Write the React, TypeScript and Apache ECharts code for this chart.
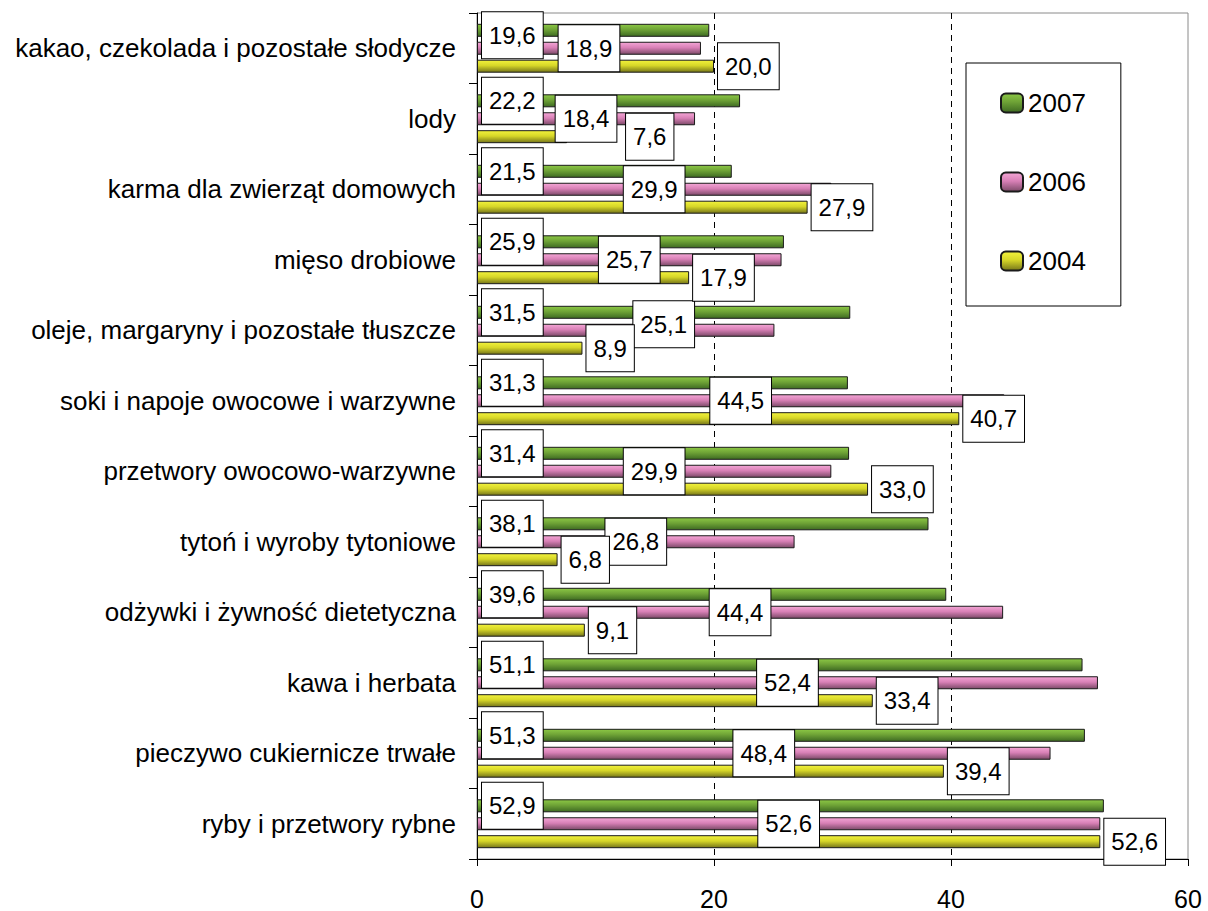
import React, { useEffect, useRef } from "react";
import * as echarts from "echarts";

const categories = [
  "kakao, czekolada i pozostałe słodycze",
  "lody",
  "karma dla zwierząt domowych",
  "mięso drobiowe",
  "oleje, margaryny i pozostałe tłuszcze",
  "soki i napoje owocowe i warzywne",
  "przetwory owocowo-warzywne",
  "tytoń i wyroby tytoniowe",
  "odżywki i żywność dietetyczna",
  "kawa i herbata",
  "pieczywo cukiernicze trwałe",
  "ryby i przetwory rybne",
];

const values2007 = [19.6, 22.2, 21.5, 25.9, 31.5, 31.3, 31.4, 38.1, 39.6, 51.1, 51.3, 52.9];
const values2006 = [18.9, 18.4, 29.9, 25.7, 25.1, 44.5, 29.9, 26.8, 44.4, 52.4, 48.4, 52.6];
const values2004 = [20.0, 7.6, 27.9, 17.9, 8.9, 40.7, 33.0, 6.8, 9.1, 33.4, 39.4, 52.6];

const seriesNames = ["2007", "2006", "2004"];
const xTicks = { min: 0, max: 60, interval: 20 };

const FONT = "Liberation Sans";

const fmt = (p: any) => Number(p.value).toFixed(1).replace(".", ",");

const labelBase = {
  show: true,
  formatter: fmt,
  fontSize: 24,
  fontFamily: FONT,
  color: "#000",
  lineHeight: 24,
  backgroundColor: "#fff",
  borderColor: "#000",
  borderWidth: 1,
  padding: [11, 7, 11, 7],
};

const grad = (stops: string[]) =>
  new echarts.graphic.LinearGradient(0, 0, 0, 1, [
    { offset: 0, color: stops[0] },
    { offset: 0.45, color: stops[1] },
    { offset: 1, color: stops[2] },
  ]);

// label offsets that Excel applied to avoid collisions: [seriesIndex, categoryIndex, dx, dy]
const labelShifts: [number, number, number, number][] = [
  [0, 0, 0, 5],
  [2, 1, 55, 0],
  [1, 4, 38, -6],
];

export default function App() {
  const ref = useRef<HTMLDivElement>(null);

  useEffect(() => {
    if (!ref.current) return;
    const chart = echarts.init(ref.current, null, { renderer: "svg" });

    const barCommon = {
      type: "bar",
      barWidth: 13,
      barGap: "38%",
    };

    const colors = [
      ["#8cc845", "#6ea236", "#3e6a22"],
      ["#f4a6d6", "#d880b6", "#7c4a68"],
      ["#f2f23c", "#d6d628", "#76761a"],
    ];
    const allValues = [values2007, values2006, values2004];

    const realSeries = allValues.map((vals, s) => ({
      ...barCommon,
      name: seriesNames[s],
      data: vals,
      yAxisIndex: 0,
      z: 2,
      itemStyle: { color: grad(colors[s]), borderColor: "#1a1a1a", borderWidth: 1 },
      label: { show: false },
    }));

    const labelPos = [
      { position: "insideLeft", distance: 5 },
      { position: "inside" },
      { position: "right", distance: 4 },
    ];

    const labelSeries = allValues.map((vals, s) => ({
      ...barCommon,
      name: "label-" + seriesNames[s],
      yAxisIndex: 1,
      z: 10,
      silent: true,
      data: vals.map((v, i) => {
        const sh = labelShifts.find((l) => l[0] === s && l[1] === i);
        if (sh) return { value: v, label: { offset: [sh[2], sh[3]] } };
        return v;
      }),
      itemStyle: { color: "rgba(0,0,0,0)", borderWidth: 0 },
      label: { ...labelBase, ...labelPos[s] },
    }));

    const option: any = {
      animation: false,
      backgroundColor: "#fff",
      textStyle: { fontFamily: FONT },
      grid: { left: 477, right: 20, top: 13, bottom: 46, show: true, borderColor: "#8a8a8a", borderWidth: 1 },
      legend: {
        orient: "vertical",
        left: 966,
        top: 63,
        padding: [27, 35, 32, 34],
        itemGap: 53,
        itemWidth: 22,
        itemHeight: 19,
        borderColor: "#000",
        borderWidth: 1,
        backgroundColor: "#fff",
        textStyle: { fontSize: 26, fontFamily: FONT, color: "#000", lineHeight: 26 },
        data: seriesNames,
      },
      xAxis: {
        type: "value",
        min: xTicks.min,
        max: xTicks.max,
        interval: xTicks.interval,
        axisLine: { show: true, lineStyle: { color: "#000", width: 1 } },
        axisTick: { show: true, length: 7, lineStyle: { color: "#000" } },
        axisLabel: { fontSize: 25, color: "#000", margin: 27, fontFamily: FONT },
        splitLine: {
          show: true,
          lineStyle: { color: ["transparent", "#000", "#000", "transparent"], type: [6, 5], width: 1 },
        },
      },
      yAxis: [
        {
          type: "category",
          inverse: true,
          data: categories,
          axisLine: { show: true, lineStyle: { color: "#000", width: 1 } },
          axisTick: { show: true, length: 8, lineStyle: { color: "#000" } },
          axisLabel: { fontSize: 26, color: "#000", margin: 21, fontFamily: FONT },
          splitLine: { show: false },
        },
        {
          type: "category",
          inverse: true,
          data: categories,
          show: false,
          position: "left",
        },
      ],
      series: [...realSeries, ...labelSeries],
    };

    chart.setOption(option);
    return () => chart.dispose();
  }, []);

  return (
    <div
      ref={ref}
      style={{ position: "absolute", left: 0, top: 0, width: 1208, height: 911 }}
    />
  );
}
